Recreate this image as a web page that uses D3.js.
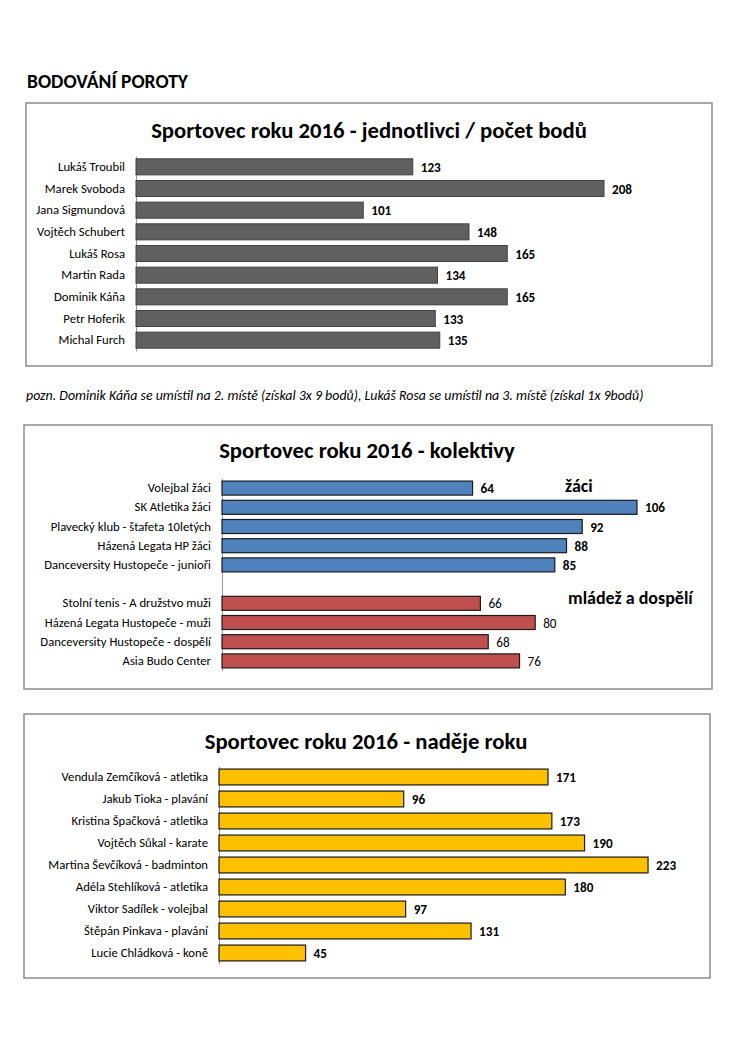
<!DOCTYPE html>
<html><head><meta charset="utf-8">
<script src="https://cdn.jsdelivr.net/npm/d3@7"></script>
<style>
body{margin:0;background:#fff;}
svg{display:block;font-family:Carlito,Lato,sans-serif;}
</style></head><body>
<svg id="c" width="750" height="1060"></svg>
<script>
// ---- data ----
const jednotlivciNames = ["Lukáš Troubil","Marek Svoboda","Jana Sigmundová","Vojtěch Schubert","Lukáš Rosa","Martin Rada","Dominik Káňa","Petr Hoferik","Michal Furch"];
const jednotlivciValues = [123,208,101,148,165,134,165,133,135];

const zaciNames = ["Volejbal žáci","SK Atletika žáci","Plavecký klub - štafeta 10letých","Házená Legata HP žáci","Danceversity Hustopeče - junioři"];
const zaciValues = [64,106,92,88,85];
const dospeliNames = ["Stolní tenis - A družstvo muži","Házená Legata Hustopeče - muži","Danceversity Hustopeče - dospělí","Asia Budo Center"];
const dospeliValues = [66,80,68,76];

const nadejeNames = ["Vendula Zemčíková - atletika","Jakub Tioka - plavání","Kristina Špačková - atletika","Vojtěch Sůkal - karate","Martina Ševčíková - badminton","Adéla Stehlíková - atletika","Viktor Sadílek - volejbal","Štěpán Pinkava - plavání","Lucie Chládková - koně"];
const nadejeValues = [171,96,173,190,223,180,97,131,45];

const titles = ["Sportovec roku 2016 - jednotlivci / počet bodů","Sportovec roku 2016 - kolektivy","Sportovec roku 2016 - naděje roku"];
const pageHeading = "BODOVÁNÍ POROTY";
const note = "pozn. Dominik Káňa se umístil na 2. místě (získal 3x 9 bodů), Lukáš Rosa se umístil na 3. místě (získal 1x 9bodů)";
const groupLabels = ["žáci","mládež a dospělí"];

// ---- drawing ----
const svg = d3.select("#c");

svg.append("text").attr("x",27).attr("y",88).attr("font-size",19.5).attr("font-weight","bold").text(pageHeading);
svg.append("text").attr("x",26).attr("y",400).attr("font-size",13.9).attr("font-style","italic").text(note);

function chart(cfg){
  const g = svg.append("g");
  g.append("rect").attr("x",cfg.box[0]).attr("y",cfg.box[1]).attr("width",cfg.box[2]).attr("height",cfg.box[3])
    .attr("fill","#fff").attr("stroke","#8c8c8c").attr("stroke-width",1.5);
  g.append("text").attr("x",cfg.titleX).attr("y",cfg.titleY).attr("text-anchor","middle")
    .attr("font-size",22.7).attr("font-weight","bold").text(cfg.title);
  const x = d3.scaleLinear().domain([0,cfg.max]).range([cfg.x0,cfg.x1]);
  const y = d3.scaleBand().domain(cfg.domain).range([cfg.y0,cfg.y1]).paddingInner(cfg.pad).paddingOuter(cfg.pad/2);
  const ax = g.append("g").attr("transform",`translate(${cfg.x0},0)`)
    .call(d3.axisLeft(y).tickSize(0).tickPadding(11).tickFormat(d=>cfg.names.includes(d)?d:""));
  ax.select(".domain").attr("stroke","#999").attr("stroke-width",1);
  ax.selectAll("text").attr("font-size",12.7).attr("font-family","Carlito,Lato,sans-serif").attr("fill","#000");
  g.selectAll("rect.bar").data(cfg.data).join("rect").attr("class","bar")
    .attr("x",x(0)).attr("y",d=>y(d.name)).attr("width",d=>x(d.value)-x(0)).attr("height",y.bandwidth())
    .attr("fill",d=>d.color).attr("stroke",d=>d.stroke).attr("stroke-width",d=>d.sw);
  g.selectAll("text.val").data(cfg.data).join("text").attr("class","val")
    .attr("x",d=>x(d.value)+8).attr("y",d=>y(d.name)+y.bandwidth()/2+5)
    .attr("font-size",13.2).attr("font-weight",d=>d.bold?"bold":"normal").text(d=>d.value);
  return {g,x,y};
}

chart({
  box:[26,103,686,263], title:titles[0], titleX:369, titleY:138,
  x0:136, x1:136+2.25*250, max:250, y0:156, y1:351, pad:0.26,
  names:jednotlivciNames, domain:jednotlivciNames,
  data:jednotlivciNames.map((n,i)=>({name:n,value:jednotlivciValues[i],color:"#606060",stroke:"#404040",sw:1,bold:true}))
});

const c2domain = [...zaciNames,"__gap__",...dospeliNames];
const c2 = chart({
  box:[24,425,688,264], title:titles[1], titleX:367, titleY:458,
  x0:222, x1:222+3.915*120, max:120, y0:478.5, y1:670.5, pad:0.27,
  names:[...zaciNames,...dospeliNames], domain:c2domain,
  data:[...zaciNames.map((n,i)=>({name:n,value:zaciValues[i],color:"#4F81BD",stroke:"#1a1a1a",sw:1.2,bold:true})),
        ...dospeliNames.map((n,i)=>({name:n,value:dospeliValues[i],color:"#C0504D",stroke:"#1a1a1a",sw:1.2,bold:false}))]
});
c2.g.append("text").attr("x",565).attr("y",492).attr("font-size",18).attr("font-weight","bold").text(groupLabels[0]);
c2.g.append("text").attr("x",568).attr("y",604).attr("font-size",18).attr("font-weight","bold").text(groupLabels[1]);

chart({
  box:[24,714,686,264], title:titles[2], titleX:366, titleY:749,
  x0:219, x1:219+1.924*250, max:250, y0:766, y1:964, pad:0.28,
  names:nadejeNames, domain:nadejeNames,
  data:nadejeNames.map((n,i)=>({name:n,value:nadejeValues[i],color:"#FFC000",stroke:"#1a1a1a",sw:1.2,bold:true}))
});
</script>
</body></html>
